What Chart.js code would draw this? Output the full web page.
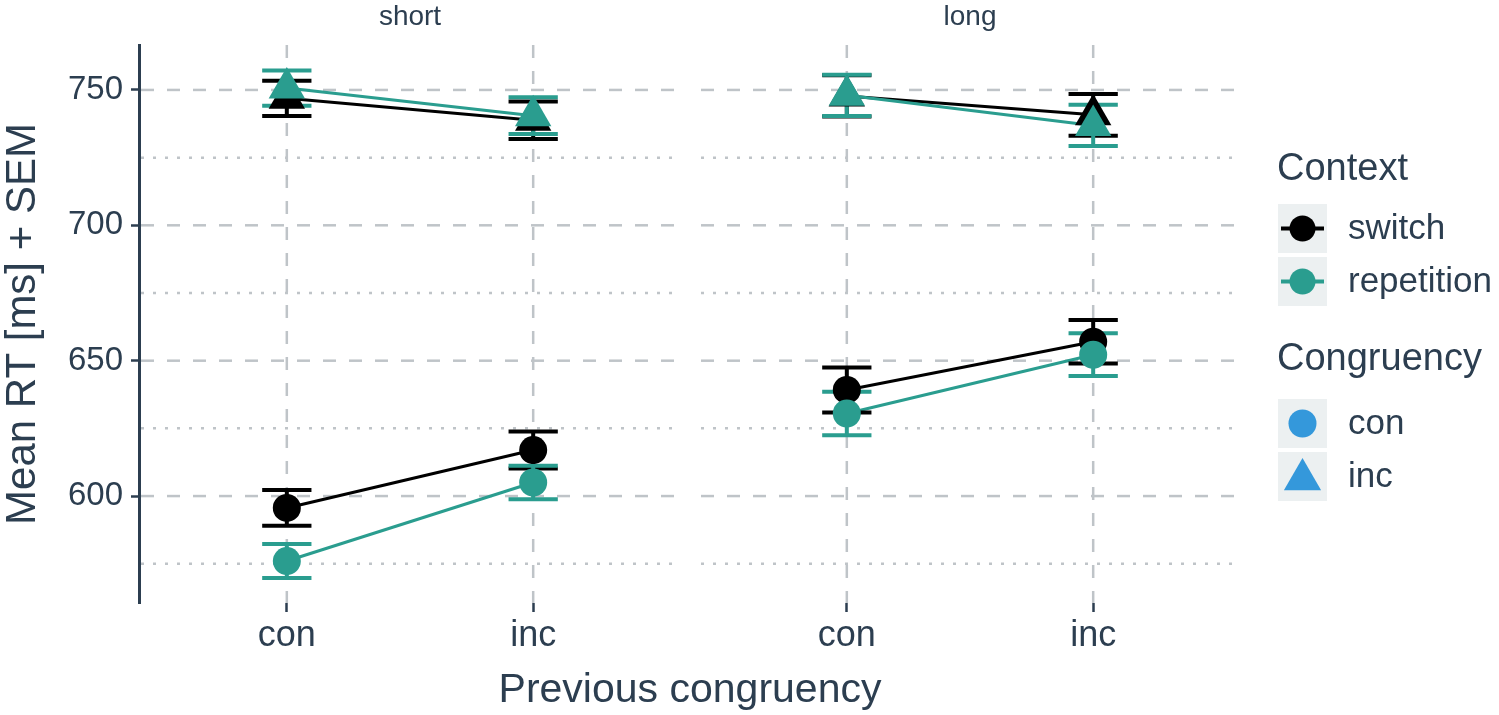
<!DOCTYPE html>
<html>
<head>
<meta charset="utf-8">
<script src="https://cdn.jsdelivr.net/npm/chart.js@4.4.1/dist/chart.umd.min.js"></script>
<style>
  html, body { margin: 0; padding: 0; background: #ffffff; }
  #wrap { position: relative; width: 1499px; height: 715px; overflow: hidden; }
  #wrap canvas { position: absolute; left: 0; top: 0; }
</style>
</head>
<body>
<div id="wrap">
  <canvas id="chartShort" width="1499" height="715"></canvas>
  <canvas id="chartLong" width="1499" height="715"></canvas>
</div>
<script>
// ---------------- DATA ----------------
const categories = ['con', 'inc'];          // Previous congruency
const xPositions = [1, 2];
const panels = ['short', 'long'];
const contexts = ['switch', 'repetition'];
const congruencies = ['con', 'inc'];

// short panel
const shortSwitchCon    = [595.6, 617.0];
const shortSwitchConSem = [6.6, 6.8];
const shortRepCon       = [576.0, 605.0];
const shortRepConSem    = [6.3, 6.2];
const shortSwitchInc    = [746.9, 738.8];
const shortSwitchIncSem = [6.5, 6.9];
const shortRepInc       = [750.7, 740.5];
const shortRepIncSem    = [6.5, 6.8];

// long panel
const longSwitchCon    = [639.2, 657.0];
const longSwitchConSem = [8.3, 8.0];
const longRepCon       = [630.5, 652.2];
const longRepConSem    = [8.0, 7.9];
const longSwitchInc    = [747.8, 740.8];
const longSwitchIncSem = [7.6, 7.7];
const longRepInc       = [748.0, 736.9];
const longRepIncSem    = [7.6, 7.6];

const yMajorTicks = [600, 650, 700, 750];
const yMinorTicks = [575, 625, 675, 725];
const yMin = 560.5, yMax = 766.6;

// ---------------- STYLE ----------------
const TEXT = '#2c3e50';
const GRID = '#bfc4c8';
const KEYBG = '#ecf0f1';
const contextColors = { 'switch': '#000000', 'repetition': '#2a9d8f' };
const congruencyShapes = { 'con': 'circle', 'inc': 'triangle' };
const congruencyRadius = { 'con': 14, 'inc': 21 };
const FONT = '"Liberation Sans", Arial, Helvetica, sans-serif';
Chart.defaults.font.family = FONT;
Chart.defaults.color = TEXT;

function buildSeries(sc, scs, rc, rcs, si, sis, ri, ris) {
  return [
    { context: 'switch', cong: 'con', mean: sc, sem: scs },
    { context: 'switch', cong: 'inc', mean: si, sem: sis },
    { context: 'repetition', cong: 'con', mean: rc, sem: rcs },
    { context: 'repetition', cong: 'inc', mean: ri, sem: ris }
  ];
}
const shortSeries = buildSeries(shortSwitchCon, shortSwitchConSem, shortRepCon, shortRepConSem,
                                shortSwitchInc, shortSwitchIncSem, shortRepInc, shortRepIncSem);
const longSeries = buildSeries(longSwitchCon, longSwitchConSem, longRepCon, longRepConSem,
                               longSwitchInc, longSwitchIncSem, longRepInc, longRepIncSem);

function makeDatasets(series) {
  const ds = [];
  series.forEach(s => {
    ds.push({
      kind: 'line', context: s.context,
      data: xPositions.map((x, i) => ({ x: x, y: s.mean[i] })),
      borderColor: contextColors[s.context], borderWidth: 3,
      pointRadius: 0, pointHoverRadius: 0, fill: false, tension: 0,
      order: s.context === 'switch' ? 8 : 7, clip: false
    });
  });
  series.forEach(s => {
    ds.push({
      kind: 'points', context: s.context, sem: s.sem,
      data: xPositions.map((x, i) => ({ x: x, y: s.mean[i] })),
      showLine: false,
      pointStyle: congruencyShapes[s.cong],
      pointRadius: congruencyRadius[s.cong],
      pointHoverRadius: congruencyRadius[s.cong],
      pointBackgroundColor: contextColors[s.context],
      pointBorderWidth: 0, pointHoverBorderWidth: 0,
      borderColor: contextColors[s.context],
      order: s.context === 'switch' ? 2 : 1, clip: false
    });
  });
  return ds;
}

// ---------------- PLUGINS ----------------
const gridPlugin = {
  id: 'facetGrid',
  beforeDatasetsDraw(chart) {
    const { ctx, chartArea: { left, right, top, bottom }, scales: { x, y } } = chart;
    ctx.save();
    ctx.strokeStyle = GRID;
    ctx.lineWidth = 2.5;
    ctx.lineCap = 'butt';
    const l = left + 2;
    ctx.setLineDash([3, 9]);
    yMinorTicks.forEach(v => {
      const py = y.getPixelForValue(v);
      ctx.beginPath(); ctx.moveTo(l, py); ctx.lineTo(right, py); ctx.stroke();
    });
    ctx.setLineDash([13, 13]);
    yMajorTicks.forEach(v => {
      const py = y.getPixelForValue(v);
      ctx.beginPath(); ctx.moveTo(l, py); ctx.lineTo(right, py); ctx.stroke();
    });
    xPositions.forEach(v => {
      const px = x.getPixelForValue(v);
      ctx.beginPath(); ctx.moveTo(px, top); ctx.lineTo(px, bottom); ctx.stroke();
    });
    ctx.restore();
  }
};

function drawErrorBars(chart) {
  const { ctx, scales: { x, y } } = chart;
  const pts = chart.data.datasets.filter(d => d.kind === 'points');
  const ordered = pts.filter(d => d.context === 'switch').concat(pts.filter(d => d.context === 'repetition'));
  ctx.save();
  ctx.lineWidth = 4;
  ctx.lineCap = 'butt';
  ctx.setLineDash([]);
  ordered.forEach(d => {
    ctx.strokeStyle = contextColors[d.context];
    d.data.forEach((p, i) => {
      const px = x.getPixelForValue(p.x);
      const x0 = x.getPixelForValue(p.x - 0.1);
      const x1 = x.getPixelForValue(p.x + 0.1);
      const hi = y.getPixelForValue(p.y + d.sem[i]);
      const lo = y.getPixelForValue(p.y - d.sem[i]);
      ctx.beginPath();
      ctx.moveTo(px, hi); ctx.lineTo(px, lo);
      ctx.moveTo(x0, hi); ctx.lineTo(x1, hi);
      ctx.moveTo(x0, lo); ctx.lineTo(x1, lo);
      ctx.stroke();
    });
  });
  ctx.restore();
}

const errorBarPlugin = {
  id: 'errorBars',
  beforeDraw(chart) { chart.$ebDone = false; },
  beforeDatasetDraw(chart, args) {
    const d = chart.data.datasets[args.index];
    if (d.kind !== 'points' || chart.$ebDone) return;
    chart.$ebDone = true;
    drawErrorBars(chart);
  }
};

const stripPlugin = {
  id: 'strip',
  afterDraw(chart, args, opts) {
    const { ctx, chartArea: { left, right } } = chart;
    ctx.save();
    ctx.font = '28px ' + FONT;
    ctx.fillStyle = TEXT;
    ctx.textAlign = 'center';
    ctx.textBaseline = 'alphabetic';
    ctx.fillText(opts.text, (left + right) / 2, 25);
    ctx.restore();
  }
};

const legendPlugin = {
  id: 'facetLegend',
  afterDraw(chart) {
    const ctx = chart.ctx;
    ctx.save();
    ctx.fillStyle = TEXT;
    ctx.textAlign = 'center';
    ctx.textBaseline = 'alphabetic';
    ctx.font = '41px ' + FONT;
    ctx.fillText('Previous congruency', 690, 702);

    const kx = 1278, ks = 49, cx = kx + ks / 2;
    ctx.textAlign = 'left';
    ctx.font = '38px ' + FONT;
    ctx.fillText('Context', 1277, 180);
    ctx.fillText('Congruency', 1277, 370);

    ctx.font = '35px ' + FONT;
    ctx.textBaseline = 'middle';
    // Context keys
    const ctxKeys = [{ y: 204, label: contexts[0] }, { y: 257, label: contexts[1] }];
    ctxKeys.forEach(k => {
      ctx.fillStyle = KEYBG;
      ctx.fillRect(kx, k.y, ks, ks);
      const cy = k.y + ks / 2;
      const col = contextColors[k.label];
      ctx.strokeStyle = col; ctx.lineWidth = 4;
      ctx.beginPath(); ctx.moveTo(kx + 3, cy); ctx.lineTo(kx + ks - 3, cy); ctx.stroke();
      ctx.fillStyle = col;
      ctx.beginPath(); ctx.arc(cx, cy, 13, 0, Math.PI * 2); ctx.fill();
      ctx.fillStyle = TEXT;
      ctx.fillText(k.label, 1348, cy + 1);
    });
    // Congruency keys
    const congKeys = [{ y: 399, label: congruencies[0] }, { y: 452, label: congruencies[1] }];
    congKeys.forEach(k => {
      ctx.fillStyle = KEYBG;
      ctx.fillRect(kx, k.y, ks, ks);
      const cy = k.y + ks / 2;
      ctx.fillStyle = '#3498db';
      if (congruencyShapes[k.label] === 'circle') {
        ctx.beginPath(); ctx.arc(cx, cy, 14, 0, Math.PI * 2); ctx.fill();
      } else {
        const r = 21.5, yc = cy + 3;
        ctx.beginPath();
        ctx.moveTo(cx, yc - r);
        ctx.lineTo(cx + r * 0.866, yc + r / 2);
        ctx.lineTo(cx - r * 0.866, yc + r / 2);
        ctx.closePath(); ctx.fill();
      }
      ctx.fillStyle = TEXT;
      ctx.fillText(k.label, 1348, cy + 1);
    });
    ctx.restore();
  }
};

function xScale() {
  return {
    type: 'linear', min: 0.4, max: 2.6,
    afterBuildTicks: s => { s.ticks = xPositions.map(v => ({ value: v })); },
    afterFit: s => { s.height = 112; },
    ticks: {
      callback: v => categories[xPositions.indexOf(v)],
      font: { size: 36 }, color: TEXT, padding: 2, maxRotation: 0, autoSkip: false
    },
    grid: { drawOnChartArea: false, drawTicks: true, tickLength: 9, tickColor: TEXT, tickWidth: 2.5 },
    border: { display: false }
  };
}

function baseOptions(padding, yDisplay, stripText, withTitle) {
  return {
    responsive: false, animation: false, devicePixelRatio: 1,
    layout: { padding: padding },
    plugins: { legend: { display: false }, tooltip: { enabled: false }, strip: { text: stripText } },
    events: [],
    scales: {
      x: xScale(),
      y: {
        type: 'linear', min: yMin, max: yMax, display: yDisplay,
        afterBuildTicks: s => { s.ticks = yMajorTicks.map(v => ({ value: v })); },
        afterFit: s => { s.width = yDisplay ? 139 : 0; },
        ticks: { font: { size: 33 }, color: TEXT, padding: 8, callback: v => String(v) },
        grid: { drawOnChartArea: false, drawTicks: true, tickLength: 8, tickColor: TEXT, tickWidth: 2.5 },
        border: { display: true, color: TEXT, width: 3 },
        title: {
          display: withTitle, text: 'Mean RT [ms] + SEM',
          font: { size: 42 }, color: TEXT, padding: { top: -2, bottom: 0 }
        }
      }
    }
  };
}

new Chart(document.getElementById('chartShort'), {
  type: 'line',
  data: { datasets: makeDatasets(shortSeries) },
  options: baseOptions({ left: 0, right: 1499 - 681, top: 45, bottom: 0 }, true, panels[0], true),
  plugins: [gridPlugin, errorBarPlugin, stripPlugin]
});

new Chart(document.getElementById('chartLong'), {
  type: 'line',
  data: { datasets: makeDatasets(longSeries) },
  options: baseOptions({ left: 699, right: 1499 - 1241, top: 45, bottom: 0 }, false, panels[1], false),
  plugins: [gridPlugin, errorBarPlugin, stripPlugin, legendPlugin]
});
</script>
</body>
</html>
